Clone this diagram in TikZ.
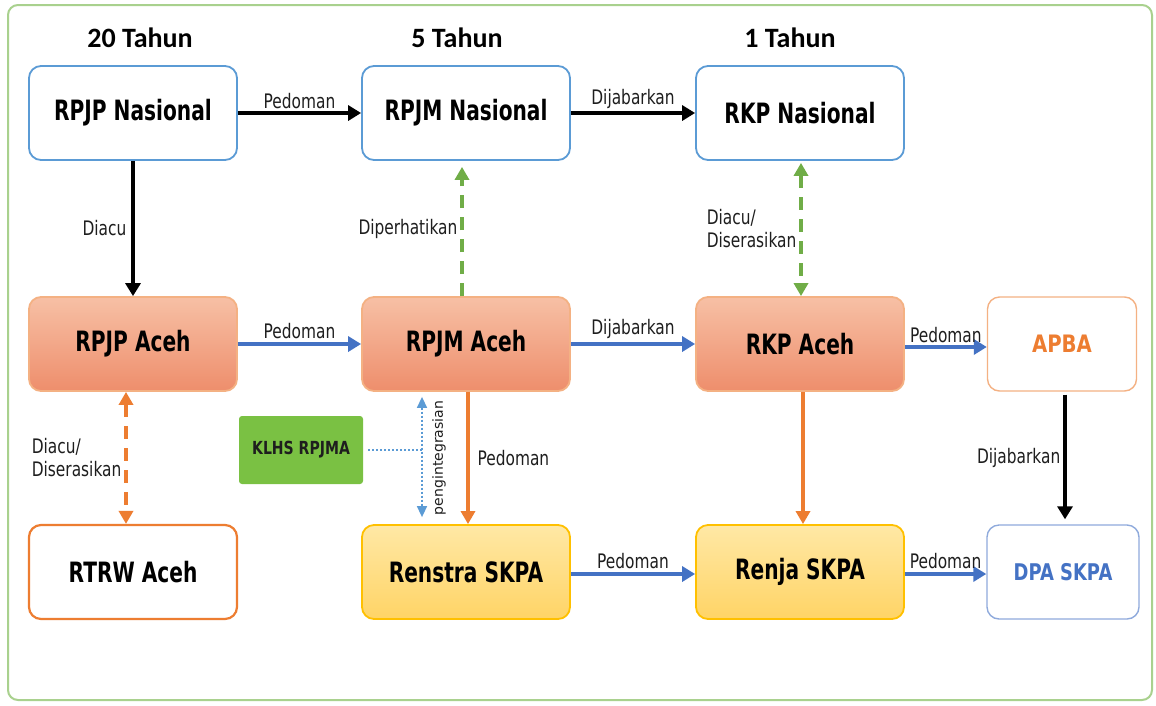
\documentclass[tikz,border=0pt]{standalone}
\usepackage{fontspec}
\setmainfont{DejaVu Sans}
\newfontfamily\bx[FakeStretch=0.72]{DejaVu Sans}
\newfontfamily\kx[FakeStretch=0.78]{DejaVu Sans}
\newfontfamily\ax[FakeStretch=0.82]{DejaVu Sans}
\newfontfamily\lb[FakeStretch=0.77]{DejaVu Sans}
\newfontfamily\hd{Carlito}
\usetikzlibrary{arrows.meta}
\definecolor{bluebd}{RGB}{91,155,213}
\definecolor{orng}{RGB}{237,125,49}
\definecolor{orngl}{RGB}{244,177,131}
\definecolor{salmonT}{RGB}{247,192,165}
\definecolor{salmonB}{RGB}{238,142,108}
\definecolor{yelT}{RGB}{255,232,165}
\definecolor{yelB}{RGB}{255,212,102}
\definecolor{gold}{RGB}{255,192,0}
\definecolor{grn}{RGB}{112,173,71}
\definecolor{klhsg}{RGB}{122,193,67}
\definecolor{framec}{RGB}{169,209,142}
\definecolor{arrblue}{RGB}{68,114,196}
\definecolor{dpab}{RGB}{143,170,220}
\definecolor{txt}{RGB}{30,30,30}
\tikzset{
  gtip/.tip={Triangle[length=13pt,width=14pt,fill=grn]},
  otip/.tip={Triangle[length=13pt,width=14pt,fill=orng]},
  btip/.tip={Triangle[length=11pt,width=10pt,fill=bluebd]},
  box/.style={rounded corners=12pt, minimum width=208pt, minimum height=94pt, inner sep=0pt,
    font=\bx\bfseries\fontsize{28}{31}\selectfont, line width=1.8pt, text=black},
  nas/.style={box, draw=bluebd, fill=white},
  aceh/.style={box, draw=orngl, top color=salmonT, bottom color=salmonB},
  skpa/.style={box, draw=gold, top color=yelT, bottom color=yelB},
  lab/.style={font=\lb\fontsize{20}{23}\selectfont, text=txt, inner sep=1pt},
  hdr/.style={font=\hd\bfseries\fontsize{28}{31}\selectfont, text=black},
  blk/.style={line width=3.4pt, draw=black, arrows={-{Triangle[length=13pt,width=15pt,fill=black]}}},
  bl/.style={line width=3.8pt, draw=arrblue, arrows={-{Triangle[length=13pt,width=15pt,fill=arrblue]}}},
  org/.style={line width=3.2pt, draw=orng, arrows={-{Triangle[length=13pt,width=14pt,fill=orng]}}},
  gdash/.style={line width=3.3pt, draw=grn, dash pattern=on 13pt off 9pt},
  odash/.style={line width=3.3pt, draw=orng, dash pattern=on 13pt off 9pt},
  dotb/.style={line width=1.5pt, draw=bluebd, dash pattern=on 2pt off 2pt}
}
\begin{document}
\begin{tikzpicture}[x=1pt,y=-1pt]
\fill[white] (0,0) rectangle (1156,705);
\useasboundingbox (0,0) rectangle (1156,705);
\draw[framec, line width=2pt, rounded corners=10pt] (8,5) rectangle (1152,700);

\node[hdr] (h20) at (140,38) {20 Tahun};
\node[hdr] (h5) at (457,38) {5 Tahun};
\node[hdr] (h1) at (790,38) {1 Tahun};

\node[nas] (rpjpn) at (133,113) {RPJP Nasional};
\node[nas] (rpjmn) at (466,113) {RPJM Nasional};
\node[nas] (rkpn) at (800,113) {RKP Nasional};

\node[aceh] (rpjpa) at (133,344) {RPJP Aceh};
\node[aceh] (rpjma) at (466,344) {RPJM Aceh};
\node[aceh] (rkpa) at (800,344) {RKP Aceh};
\node[box, minimum width=149pt, draw=orngl, line width=1.4pt, fill=white, text=orng,
  font=\ax\bfseries\fontsize{24}{27}\selectfont] (apba) at (1062,344) {APBA};

\node[box, draw=orng, line width=2.2pt, fill=white] (rtrw) at (133,572) {RTRW Aceh};
\node[skpa] (renstra) at (466,572) {Renstra SKPA};
\node[skpa] (renja) at (800,572) {Renja SKPA};
\node[box, minimum width=152pt, draw=dpab, line width=1.4pt, fill=white, text=arrblue,
  font=\kx\bfseries\fontsize{23}{26}\selectfont] (dpa) at (1063,572) {DPA SKPA};

\node[rounded corners=3pt, fill=klhsg, minimum width=124pt, minimum height=68pt, inner sep=0pt,
  font=\kx\bfseries\fontsize{18}{21}\selectfont, text=txt] (klhs) at (301,450) {KLHS RPJMA};

% top row
\draw[blk] (rpjpn) -- (rpjmn) node[midway, above=2pt, lab] {Pedoman};
\draw[blk] (rpjmn) -- (rkpn) node[midway, above=2pt, lab] {Dijabarkan};
\draw[blk] (rpjpn) -- (rpjpa) node[midway, left=4pt, lab] {Diacu};

% green dashed
\draw[gdash, arrows={-gtip}, shorten >=6pt]
  ([xshift=-4pt]rpjma.north) -- ([xshift=-4pt]rpjmn.south)
  node[midway, left=2pt, lab] {Diperhatikan};
\draw[gdash, arrows={gtip-gtip}, shorten <=2pt]
  ([xshift=1pt]rkpn.south) -- ([xshift=1pt]rkpa.north)
  node[midway, left=2pt, lab, align=left] {Diacu/\\Diserasikan};

% middle row
\draw[bl] (rpjpa) -- (rpjma) node[midway, above=2pt, lab] {Pedoman};
\draw[bl] (rpjma) -- (rkpa) node[midway, above=2pt, lab] {Dijabarkan};
\draw[bl] ([yshift=-3pt]rkpa.east) -- ([yshift=-3pt]apba.west) node[midway, above=1pt, lab] {Pedoman};

% verticals
\draw[odash, arrows={otip-otip}]
  ([xshift=-7pt]rpjpa.south) -- ([xshift=-7pt]rtrw.north)
  node[midway, left=2pt, lab, align=left] {Diacu/\\Diserasikan};
\draw[org] ([xshift=2pt]rpjma.south) -- ([xshift=2pt]renstra.north)
  node[midway, right=7pt, lab] {Pedoman};
\draw[org] ([xshift=3pt]rkpa.south) -- ([xshift=3pt]renja.north);
\draw[blk, shorten <=3pt, shorten >=5pt] ([xshift=3pt]apba.south) -- ([xshift=2pt]dpa.north)
  node[midway, left=2pt, lab] {Dijabarkan};

% bottom row
\draw[bl] ([yshift=-2pt]renstra.east) -- ([yshift=-2pt]renja.west) node[midway, above=2pt, lab] {Pedoman};
\draw[bl] ([yshift=-2pt]renja.east) -- ([yshift=-2pt]dpa.west) node[midway, above=2pt, lab] {Pedoman};

% KLHS integration
\coordinate (pj) at (422,450);
\draw[dotb] ([xshift=5pt]klhs.east) -- (pj);
\draw[dotb, arrows={btip-btip}, shorten <=5pt, shorten >=7pt]
  ([xshift=-44pt]rpjma.south) -- ([xshift=-44pt]renstra.north);
\node[rotate=90, font=\fontsize{14}{16}\selectfont, text=txt, inner sep=0pt] (peng) at (439,458) {pengintegrasian};
\end{tikzpicture}
\end{document}
